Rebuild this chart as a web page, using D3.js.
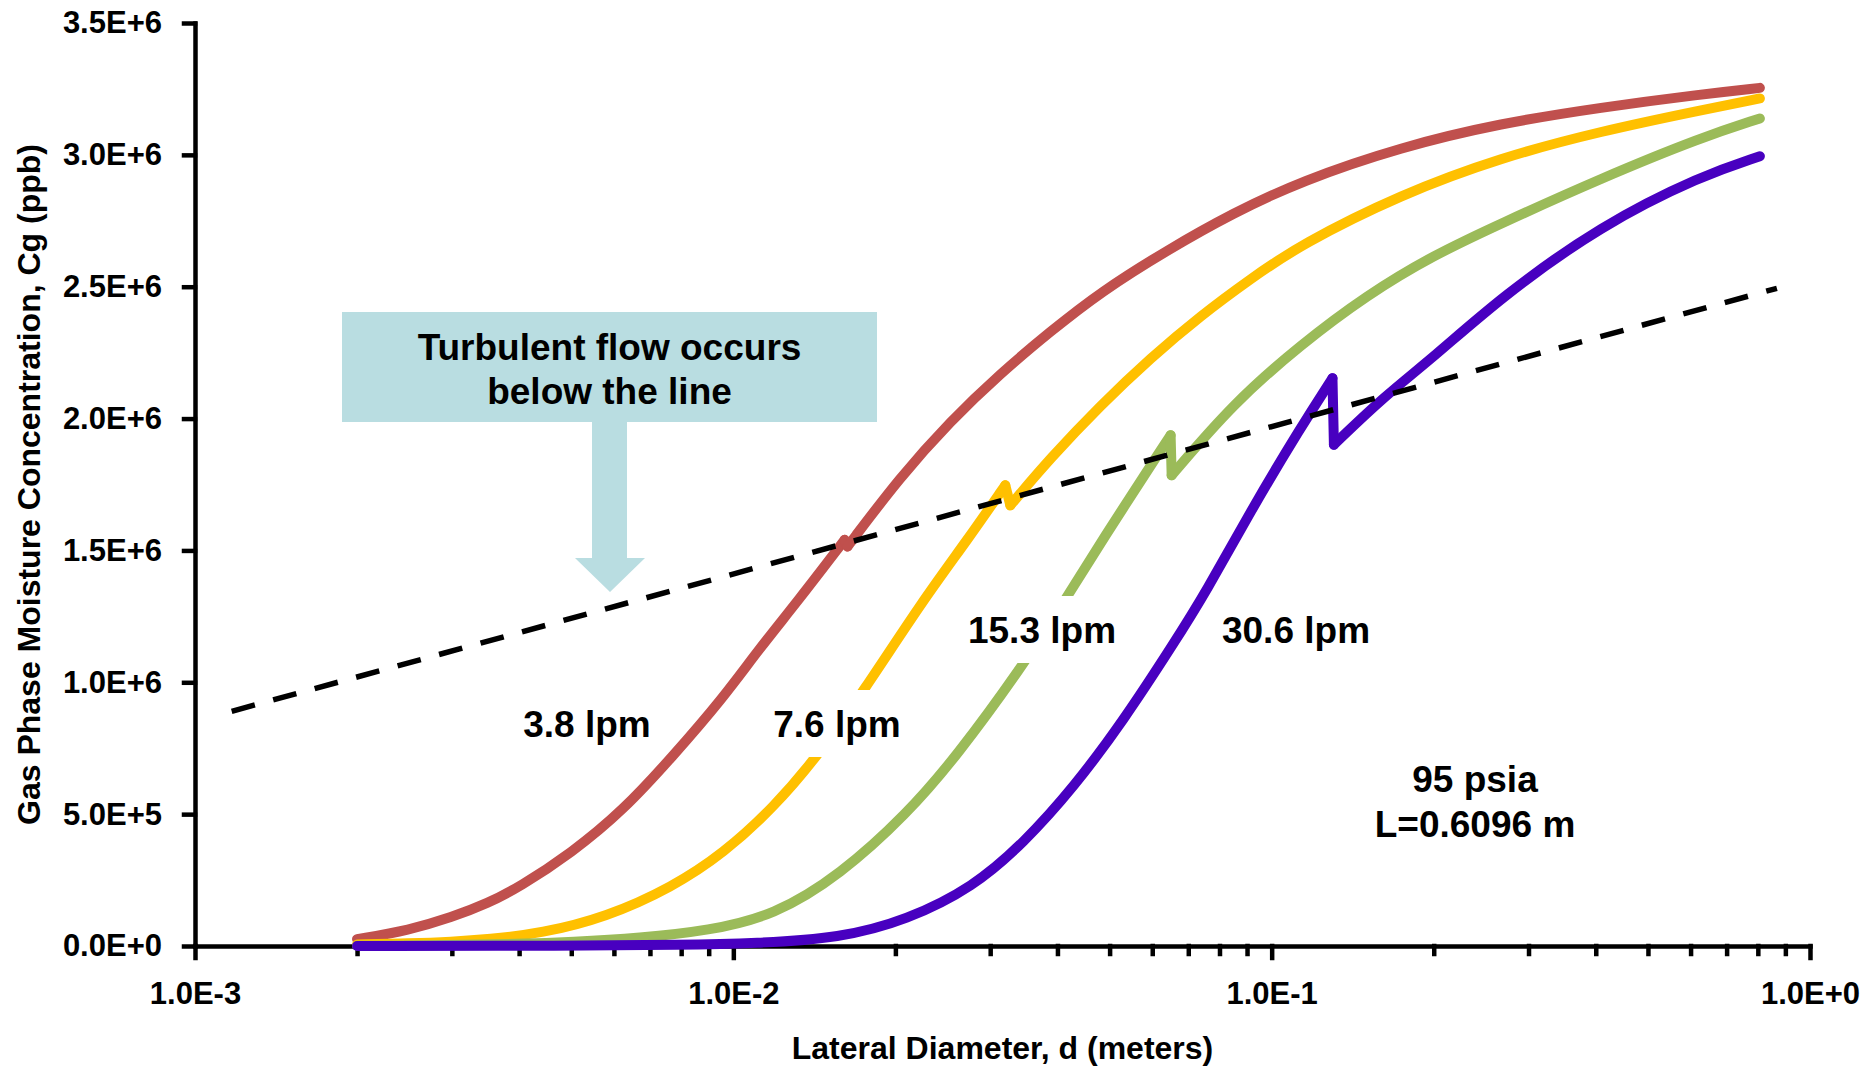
<!DOCTYPE html>
<html>
<head>
<meta charset="utf-8">
<script src="https://cdn.jsdelivr.net/npm/d3@7"></script>
<style>
    html, body { margin: 0; padding: 0; background: #fff; }
    svg { display: block; }
    text { font-family: "Liberation Sans", Arial, sans-serif; font-weight: bold; fill: #000; }
</style>
</head>
<body>
<div id="chart"></div>
<script>
// axis ticks
const xTicks = [1e-3, 1e-2, 1e-1, 1];
const yTicks = [0, 5e5, 1e6, 1.5e6, 2e6, 2.5e6, 3e6, 3.5e6];

// lateral diameter (m) and gas phase concentration (ppb), one pair per flow rate
const diam38 = [0.002, 0.0025, 0.003, 0.0035, 0.004, 0.005, 0.00625, 0.0077, 0.0096, 0.0111, 0.0132, 0.0161, 0.0163,
    0.0204, 0.0253, 0.0313, 0.0388, 0.0481, 0.0641, 0.0849, 0.1132, 0.1738, 0.2667, 0.409, 0.63, 0.807];
const conc38 = [26000, 60000, 109000, 162000, 223000, 352000, 515000, 717000, 944000, 1120000, 1310000, 1540000, 1515000,
    1778000, 1990000, 2170000, 2330000, 2480000, 2640000, 2780000, 2900000, 3030000, 3120000, 3180000, 3230000, 3254000];

const diam76 = [0.002, 0.0025, 0.003, 0.0035, 0.0044, 0.0058, 0.0077, 0.0096, 0.0119, 0.0143, 0.0175, 0.0225, 0.0272,
    0.0320, 0.0327, 0.0388, 0.0481, 0.0596, 0.0738, 0.0914, 0.1132, 0.1738, 0.2667, 0.409, 0.63, 0.807];
const conc76 = [6000, 10000, 16000, 25000, 48000, 109000, 223000, 352000, 527000, 717000, 970000, 1311000, 1539000,
    1747000, 1671000, 1850000, 2050000, 2230000, 2390000, 2530000, 2660000, 2850000, 2990000, 3090000, 3170000, 3214000];

const diam153 = [0.002, 0.003, 0.004, 0.005, 0.0067, 0.009, 0.0119, 0.0158, 0.021, 0.026, 0.0344, 0.041, 0.0481,
    0.0649, 0.0652, 0.0849, 0.1132, 0.1507, 0.2, 0.2667, 0.409, 0.63, 0.807];
const conc153 = [1000, 3000, 8000, 15000, 30000, 58000, 115000, 270000, 500000, 720000, 1060000, 1300000, 1530000,
    1937000, 1785000, 2058000, 2280000, 2470000, 2620000, 2740000, 2911000, 3067000, 3138000];

const diam306 = [0.002, 0.005, 0.008, 0.011, 0.0158, 0.021, 0.0279, 0.0346, 0.0429, 0.0531, 0.0658, 0.0754, 0.0914,
    0.1132, 0.1297, 0.1305, 0.1614, 0.2, 0.2667, 0.409, 0.63, 0.807];
const conc306 = [0, 1000, 4000, 10000, 30000, 98000, 223000, 390000, 602000, 856000, 1148000, 1340000, 1650000,
    1966000, 2153000, 1901000, 2082000, 2233000, 2460000, 2733000, 2922000, 2995000];

// laminar / turbulent boundary (dashed)
const boundDiam = [0.00117, 0.868];
const boundConc = [890000, 2494000];

const flowLabels = ["3.8 lpm", "7.6 lpm", "15.3 lpm", "30.6 lpm"];

(function () {
    "use strict";

    const W = 1868, H = 1066;
    const margin = { top: 23, right: 58, bottom: 120, left: 195 },
        width = W - margin.left - margin.right,
        height = H - margin.top - margin.bottom;

    const svg = d3.select("#chart").append("svg")
        .attr("width", W)
        .attr("height", H);

    const g = svg.append("g")
        .attr("transform", "translate(" + margin.left + "," + margin.top + ")");

    const x = d3.scaleLog().domain([1e-3, 1]).range([0, width]);
    const y = d3.scaleLinear().domain([0, 3.5e6]).range([height, 0]);

    const fmt = function (v) { return v.toExponential(1).toUpperCase(); };

    // y axis
    const gy = g.append("g")
        .call(d3.axisLeft(y).tickValues(yTicks).tickSizeInner(11).tickSizeOuter(0)
            .tickPadding(22).tickFormat(fmt));
    gy.selectAll("text").style("font-size", "31px");

    // x axis, minor ticks first
    const minor = x.ticks().filter(function (t) { return xTicks.indexOf(t) < 0; });
    const gxm = g.append("g")
        .attr("transform", "translate(0," + height + ")")
        .call(d3.axisBottom(x).tickValues(minor).tickSizeInner(8).tickSizeOuter(0).tickFormat(""));
    gxm.select(".domain").remove();

    const gx = g.append("g")
        .attr("transform", "translate(0," + height + ")")
        .call(d3.axisBottom(x).tickValues(xTicks).tickSizeInner(12).tickSizeOuter(0)
            .tickPadding(24).tickFormat(fmt));
    gx.selectAll("text").style("font-size", "31px");

    [gy, gx, gxm].forEach(function (a) {
        a.attr("font-family", null).attr("font-size", null);
        a.selectAll(".domain, .tick line")
            .attr("stroke", "#000")
            .attr("stroke-width", 4.5)
            .attr("stroke-linecap", "square");
    });

    // axis titles
    svg.append("text")
        .attr("x", margin.left + width / 2)
        .attr("y", 1059)
        .attr("text-anchor", "middle")
        .style("font-size", "32px")
        .text("Lateral Diameter, d (meters)");

    svg.append("text")
        .attr("transform", "translate(40," + (margin.top + height / 2) + ") rotate(-90)")
        .attr("text-anchor", "middle")
        .style("font-size", "32px")
        .text("Gas Phase Moisture Concentration, Cg (ppb)");

    // curves
    const series = [
        { diam: diam38, conc: conc38, color: "#C0504D" },
        { diam: diam76, conc: conc76, color: "#FFC000" },
        { diam: diam153, conc: conc153, color: "#9BBB59" },
        { diam: diam306, conc: conc306, color: "#4800C0" }
    ];

    const smooth = d3.line()
        .x(function (p) { return x(p[0]); })
        .y(function (p) { return y(p[1]); })
        .curve(d3.curveBasis);

    series.forEach(function (s) {
        const pts = s.diam.map(function (d, i) { return [d, s.conc[i]]; });
        // split where the curve drops (switch to turbulent)
        const k = pts.findIndex(function (p, i) { return i > 0 && p[1] < pts[i - 1][1]; });
        const parts = [pts.slice(0, k), pts.slice(k - 1, k + 1), pts.slice(k)];
        parts.forEach(function (part) {
            g.append("path")
                .datum(part)
                .attr("d", smooth)
                .attr("fill", "none")
                .attr("stroke", s.color)
                .attr("stroke-width", 10)
                .attr("stroke-linecap", "round")
                .attr("stroke-linejoin", "round");
        });
    });

    // boundary line
    g.append("path")
        .datum(boundDiam.map(function (d, i) { return [d, boundConc[i]]; }))
        .attr("d", d3.line().x(function (p) { return x(p[0]); }).y(function (p) { return y(p[1]); }))
        .attr("fill", "none")
        .attr("stroke", "#000")
        .attr("stroke-width", 5.5)
        .attr("stroke-dasharray", "24,19");

    // flow rate labels, with white backing
    const labelPos = [[392, 714], [642, 714], [847, 620], [1101, 620]];
    flowLabels.forEach(function (txt, i) {
        const lg = g.append("g");
        const r = lg.append("rect").attr("fill", "#fff");
        const t = lg.append("text")
            .attr("x", labelPos[i][0])
            .attr("y", labelPos[i][1])
            .attr("text-anchor", "middle")
            .style("font-size", "37px")
            .text(txt);
        const b = t.node().getBBox();
        r.attr("x", b.x - 8)
            .attr("y", labelPos[i][1] - 47)
            .attr("width", b.width + 16)
            .attr("height", 67);
    });

    // conditions
    g.append("text")
        .attr("x", 1280).attr("y", 769)
        .attr("text-anchor", "middle")
        .style("font-size", "37px")
        .text("95 psia");
    g.append("text")
        .attr("x", 1280).attr("y", 814)
        .attr("text-anchor", "middle")
        .style("font-size", "37px")
        .text("L=0.6096 m");

    // callout box and arrow
    const boxFill = "#B9DDE1";
    svg.append("rect")
        .attr("x", 342).attr("y", 312)
        .attr("width", 535).attr("height", 110)
        .attr("fill", boxFill);
    svg.append("path")
        .attr("d", "M592,421 L627,421 L627,558 L645,558 L610,592 L575,558 L592,558 Z")
        .attr("fill", boxFill);
    svg.append("text")
        .attr("x", 609.5).attr("y", 360)
        .attr("text-anchor", "middle")
        .style("font-size", "37px")
        .text("Turbulent flow occurs");
    svg.append("text")
        .attr("x", 609.5).attr("y", 404)
        .attr("text-anchor", "middle")
        .style("font-size", "37px")
        .text("below the line");
})();
</script>
</body>
</html>
